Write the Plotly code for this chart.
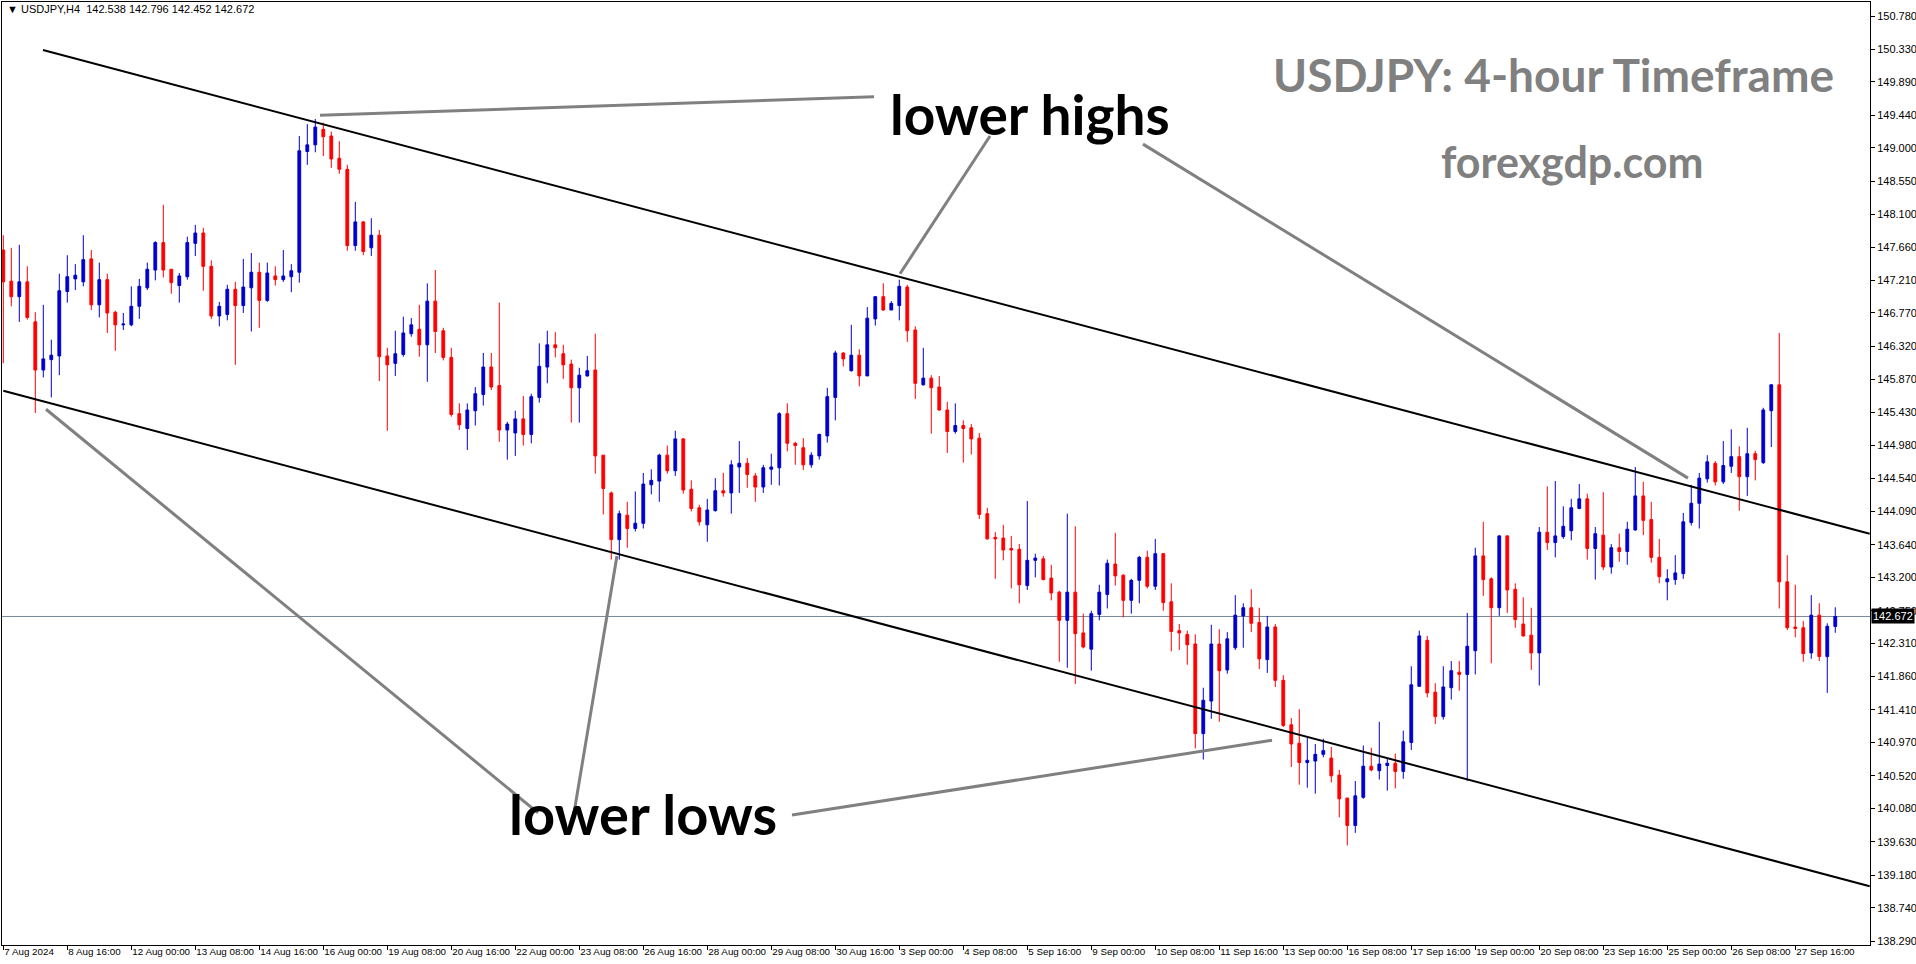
import plotly.graph_objects as go

# ---------------- data (USDJPY H4) ----------------
open_ = [147.62,147.20,146.99,147.19,146.65,146.00,146.14,146.19,147.06,147.23,
         147.19,147.50,146.88,147.22,146.78,146.61,146.61,146.86,147.11,147.35,
         147.72,147.36,147.14,147.26,147.71,147.85,147.40,146.73,146.75,147.09,
         146.87,147.11,147.32,146.94,147.27,147.22,147.26,147.32,148.95,149.04,
         149.25,149.16,148.86,148.71,147.68,148.00,147.65,147.82,146.19,146.09,
         146.21,146.49,146.55,146.34,146.93,146.53,146.17,145.41,145.21,145.45,
         145.67,146.04,145.79,145.19,145.15,145.34,145.13,145.63,146.04,146.34,
         146.22,146.08,145.76,145.92,146.00,144.85,144.34,143.71,144.04,143.86,
         143.93,144.45,144.50,144.85,144.64,145.07,144.39,144.14,143.91,144.10,
         144.37,144.34,144.69,144.74,144.57,144.42,144.66,144.68,145.41,145.01,
         144.95,144.72,144.84,145.11,145.63,146.23,145.99,146.20,145.92,146.69,
         146.99,146.81,146.87,147.12,146.54,145.80,145.89,145.77,145.46,145.17,
         145.25,145.22,145.08,144.06,143.74,143.73,143.59,143.58,143.09,143.43,
         143.45,143.19,143.00,142.62,143.00,142.45,142.23,142.70,142.97,143.38,
         143.23,142.89,143.16,143.47,143.08,143.52,142.87,142.48,142.43,142.30,
         141.09,141.53,142.30,141.95,142.25,142.68,142.79,142.59,142.09,142.53,
         141.81,141.21,140.96,140.70,140.72,140.81,140.76,140.53,140.22,139.85,
         140.23,140.65,140.59,140.66,140.69,140.58,140.97,141.73,142.35,141.65,
         141.32,141.71,141.92,141.89,142.21,143.49,143.18,142.79,143.76,143.04,
         142.57,142.42,142.18,143.81,143.67,143.75,143.83,144.13,144.26,143.59,
         143.77,143.34,143.60,143.55,143.84,144.30,143.98,143.47,143.14,143.17,
         143.25,143.94,144.20,144.53,144.74,144.49,144.70,144.83,144.56,144.87,
         144.75,145.45,145.80,143.14,142.53,142.52,142.18,142.69,142.13,142.538]
high = [147.82,147.65,147.69,147.40,146.78,146.88,146.41,147.30,147.55,147.43,
        147.82,147.62,147.45,147.30,146.80,146.77,147.13,147.23,147.45,147.74,
        148.23,147.36,147.31,147.80,147.96,147.92,147.48,146.92,147.15,147.19,
        147.50,147.58,147.45,147.45,147.40,147.62,147.43,149.16,149.32,149.39,
        149.34,149.22,149.09,148.77,148.27,148.01,148.05,147.89,146.30,146.53,
        146.72,146.70,146.88,147.17,147.35,146.57,146.30,145.55,145.55,145.77,
        146.23,146.23,146.91,145.30,145.45,145.65,145.68,146.36,146.53,146.51,
        146.34,146.14,146.03,146.19,146.49,144.85,144.36,144.10,144.22,144.36,
        144.61,144.66,144.87,144.98,145.18,145.08,144.51,144.18,144.26,144.54,
        144.61,144.78,145.04,144.81,144.61,144.72,144.87,145.43,145.55,145.03,
        145.08,144.89,145.14,145.76,146.26,146.24,146.61,146.28,146.85,147.00,
        147.17,146.93,147.22,147.15,146.59,146.30,145.93,145.92,145.57,145.55,
        145.32,145.27,145.15,144.14,143.81,143.91,143.76,143.65,144.23,143.52,
        143.49,143.37,143.02,144.06,143.89,142.71,142.75,143.10,143.44,143.80,
        143.24,143.18,143.49,143.56,143.72,143.53,143.12,142.57,142.48,142.43,
        141.71,142.56,142.50,142.46,142.96,142.85,143.04,142.79,142.68,142.57,
        141.88,141.30,141.42,141.04,140.95,141.02,140.91,140.60,140.22,140.45,
        140.93,140.90,141.25,140.75,140.82,141.13,142.00,142.48,142.41,141.77,
        142.00,142.07,142.07,142.72,143.60,143.95,143.20,143.77,143.77,143.12,
        142.93,142.79,143.88,144.43,144.50,144.16,144.26,144.46,144.33,143.88,
        144.35,143.65,143.79,143.95,144.69,144.49,144.22,143.72,143.31,143.50,
        144.07,144.45,144.61,144.85,144.77,145.04,145.20,144.97,145.22,144.91,
        145.49,145.81,146.50,143.50,143.10,142.61,142.96,142.85,142.58,142.796]
low = [146.09,146.86,146.65,146.68,145.42,145.90,145.63,145.93,146.91,147.08,
       147.13,146.81,146.71,146.50,146.26,146.54,146.59,146.69,147.08,147.21,
       147.25,147.03,146.91,147.22,147.54,147.07,146.69,146.59,146.67,146.07,
       146.77,146.52,146.57,146.92,147.14,147.19,147.05,147.18,148.77,148.94,
       148.89,148.73,148.65,147.61,147.61,147.55,147.54,145.85,145.18,145.92,
       146.18,146.45,146.18,145.84,146.23,146.13,145.37,145.19,144.92,145.25,
       145.52,145.73,145.03,144.79,144.84,144.98,145.01,145.56,145.82,146.17,
       145.88,145.29,145.29,145.91,144.60,144.05,143.44,143.44,143.60,143.82,
       143.86,144.32,144.22,144.60,144.57,144.33,144.09,143.90,143.68,144.09,
       144.29,144.06,144.34,144.41,144.22,144.34,144.45,144.44,144.90,144.72,
       144.65,144.68,144.79,145.02,145.32,146.05,145.98,145.78,145.92,146.60,
       146.80,146.81,146.67,146.38,145.61,145.79,145.14,145.45,144.88,145.14,
       144.75,144.86,143.99,143.71,143.18,143.43,143.05,142.85,143.03,143.20,
       143.16,142.89,142.06,141.98,141.76,142.24,141.94,142.62,142.78,143.09,
       142.66,142.71,142.85,143.05,143.03,142.75,142.20,142.22,142.02,140.89,
       140.74,141.29,141.25,141.90,142.22,142.25,142.46,141.96,141.91,141.72,
       141.18,140.64,140.40,140.36,140.28,140.77,140.43,139.96,139.58,139.75,
       140.21,140.58,140.47,140.32,140.35,140.48,140.87,141.72,141.58,141.22,
       141.28,141.55,141.67,140.45,141.89,142.95,142.04,142.68,142.72,142.52,
       142.40,141.95,141.74,143.57,143.47,143.72,143.70,144.12,143.44,143.17,
       143.30,143.25,143.41,143.37,143.83,143.77,143.40,143.12,142.89,143.10,
       143.18,143.90,143.86,144.48,144.44,144.46,144.61,144.10,144.30,144.51,
       144.73,144.96,142.78,142.49,142.39,142.06,142.10,142.07,141.64,142.452]
close = [147.19,146.99,147.19,146.71,146.00,146.15,146.20,147.07,147.26,147.28,
         147.49,146.88,147.22,146.77,146.61,146.62,146.86,147.13,147.36,147.72,
         147.35,147.18,147.27,147.72,147.85,147.40,146.73,146.86,147.09,146.87,
         147.12,147.32,146.94,147.31,147.22,147.27,147.34,148.96,149.04,149.28,
         149.15,148.85,148.71,147.68,148.00,147.60,147.82,146.18,146.07,146.22,
         146.50,146.61,146.34,146.93,146.52,146.17,145.40,145.26,145.46,145.68,
         146.04,145.77,145.19,145.27,145.34,145.13,145.64,146.05,146.34,146.30,
         146.07,145.76,145.93,145.99,144.84,144.40,143.71,144.06,143.86,143.93,
         144.46,144.51,144.85,144.64,145.07,144.38,144.13,143.95,144.11,144.37,
         144.34,144.72,144.74,144.59,144.42,144.68,144.69,145.41,145.01,144.98,
         144.72,144.85,145.13,145.64,146.23,146.15,146.20,145.92,146.70,146.99,
         146.81,146.90,147.13,146.53,145.82,145.89,145.76,145.46,145.17,145.25,
         145.21,145.07,144.05,143.72,143.72,143.57,143.57,143.10,143.43,143.46,
         143.17,142.99,142.62,143.00,142.44,142.26,142.71,143.00,143.39,143.22,
         142.89,143.16,143.47,143.08,143.52,142.86,142.47,142.45,142.29,141.09,
         141.54,142.30,141.94,142.37,142.69,142.79,142.58,142.10,142.53,141.81,
         141.20,140.95,140.70,140.73,140.81,140.86,140.52,140.21,139.85,140.25,
         140.65,140.60,140.68,140.69,140.58,140.98,141.75,142.41,141.64,141.32,
         141.72,141.94,141.89,142.27,143.49,143.17,142.79,143.76,143.03,142.63,
         142.41,142.18,143.81,143.67,143.76,143.89,144.14,144.26,143.59,143.79,
         143.34,143.60,143.55,143.85,144.30,143.97,143.47,143.21,143.18,143.26,
         143.95,144.20,144.54,144.76,144.49,144.71,144.83,144.56,144.87,144.79,
         145.46,145.80,143.14,142.52,142.51,142.17,142.69,142.13,142.54,142.672]
bar_index = list(range(len(close)))

date_labels = ["7 Aug 2024", "8 Aug 16:00", "12 Aug 00:00", "13 Aug 08:00", "14 Aug 16:00",
               "16 Aug 00:00", "19 Aug 08:00", "20 Aug 16:00", "22 Aug 00:00", "23 Aug 08:00",
               "26 Aug 16:00", "28 Aug 00:00", "29 Aug 08:00", "30 Aug 16:00", "3 Sep 00:00",
               "4 Sep 08:00", "5 Sep 16:00", "9 Sep 00:00", "10 Sep 08:00", "11 Sep 16:00",
               "13 Sep 00:00", "16 Sep 08:00", "17 Sep 16:00", "19 Sep 00:00", "20 Sep 08:00",
               "23 Sep 16:00", "25 Sep 00:00", "26 Sep 08:00", "27 Sep 16:00"]
date_label_index = list(range(0, 8 * len(date_labels), 8))

price_ticks = [150.780, 150.330, 149.890, 149.440, 149.000, 148.550, 148.100, 147.660,
               147.210, 146.770, 146.320, 145.870, 145.430, 144.980, 144.540, 144.090,
               143.640, 143.200, 142.750, 142.310, 141.860, 141.410, 140.970, 140.520,
               140.080, 139.630, 139.180, 138.740, 138.290]

last_price = 142.672
header_values = [142.538, 142.796, 142.452, 142.672]

# channel trend lines (bar index, price)
upper_channel_x = [4.96, 233.3]
upper_channel_y = [150.32, 143.79]
lower_channel_x = [0.0, 233.3]
lower_channel_y = [145.72, 139.03]

# pointer lines for the labels (bar index, price)
pointer_lines = [
    ([39.59, 108.84], [149.44, 149.69]),
    ([123.34, 112.09], [149.16, 147.30]),
    ([142.46, 210.59], [149.05, 144.54]),
    ([5.34, 66.84], [145.47, 140.02]),
    ([71.34, 76.71], [140.02, 143.49]),
    ([98.59, 158.59], [139.99, 141.00]),
]

# ---------------- figure ----------------
W, H = 1916, 964
L, R, T, B = 2, 46, 2, 19

def px_x(px):
    return (px - L) / (W - L - R)

def px_y(py):
    return (H - B - py) / (H - T - B)

fig = go.Figure()
fig.add_trace(go.Candlestick(
    x=bar_index, open=open_, high=high, low=low, close=close,
    increasing=dict(line=dict(color="#0000CD", width=1), fillcolor="#0000CD"),
    decreasing=dict(line=dict(color="#FF0000", width=1), fillcolor="#FF0000"),
    whiskerwidth=0, hoverinfo="skip", showlegend=False,
))

fig.add_hline(y=last_price, line=dict(color="#778899", width=1), layer="below")

for xs, ys in [(upper_channel_x, upper_channel_y), (lower_channel_x, lower_channel_y)]:
    fig.add_trace(go.Scatter(x=xs, y=ys, mode="lines", line=dict(color="black", width=2),
                             hoverinfo="skip", showlegend=False, cliponaxis=True))

for xs, ys in pointer_lines:
    fig.add_trace(go.Scatter(x=xs, y=ys, mode="lines", line=dict(color="#808080", width=3),
                             hoverinfo="skip", showlegend=False))

axis_font = dict(family="Liberation Sans, Arial, sans-serif", size=11, color="black")
date_font = dict(family="Liberation Sans, Arial, sans-serif", size=9.8, color="black")

fig.update_layout(
    width=W, height=H,
    margin=dict(l=L, r=R, t=T, b=B, autoexpand=False),
    plot_bgcolor="white", paper_bgcolor="white",
    showlegend=False, boxgap=0.5,
    xaxis=dict(range=[-0.1625, 233.34], showgrid=False, zeroline=False,
               showline=True, linecolor="black", linewidth=1, mirror=True,
               ticks="outside", ticklen=4, tickcolor="black", tickwidth=1,
               tickvals=date_label_index, ticktext=date_labels, tickangle=0,
               ticklabelposition="outside right", ticklabelstandoff=-3,
               tickfont=date_font,
               rangeslider=dict(visible=False), fixedrange=True),
    yaxis=dict(range=[138.236, 150.969], side="right", showgrid=False, zeroline=False,
               showline=True, linecolor="black", linewidth=1, mirror=True,
               ticks="outside", ticklen=4, tickcolor="black", tickwidth=1,
               tickvals=price_ticks, ticktext=[f"{v:.3f}" for v in price_ticks],
               tickfont=axis_font, fixedrange=True),
)

big_font = "Lato, 'Open Sans', sans-serif"
annotations = [
    dict(text="\u25BC\u00a0USDJPY,H4\u00a0\u00a0" + "\u00a0".join(f"{v:.3f}" for v in header_values),
         x=px_x(5), y=px_y(9), xanchor="left", yanchor="middle",
         font=dict(family="Liberation Sans, Arial, sans-serif", size=11, color="black")),
    dict(text="<b>USDJPY: 4-hour Timeframe</b>", x=px_x(1553), y=px_y(74),
         xanchor="center", yanchor="middle", font=dict(family=big_font, size=46, color="#808080")),
    dict(text="<b>forexgdp.com</b>", x=px_x(1572), y=px_y(161),
         xanchor="center", yanchor="middle", font=dict(family=big_font, size=43, color="#808080")),
    dict(text="<b>lower highs</b>", x=px_x(1030), y=px_y(114),
         xanchor="center", yanchor="middle", font=dict(family=big_font, size=55, color="black")),
    dict(text="<b>lower lows</b>", x=px_x(643), y=px_y(813),
         xanchor="center", yanchor="middle", font=dict(family=big_font, size=56, color="black")),
]
for a in annotations:
    a.update(xref="paper", yref="paper", showarrow=False)
    fig.add_annotation(**a)

fig.add_annotation(text=f"{last_price:.3f}", xref="paper", yref="y", x=1, y=last_price,
                   xanchor="left", yanchor="middle", xshift=1, showarrow=False,
                   bgcolor="black", borderpad=1,
                   font=dict(family="Liberation Sans, Arial, sans-serif", size=11, color="white"))

fig.write_html("out.html", config={"displayModeBar": False},
               post_script="document.body.style.margin='0';document.body.style.overflow='hidden';")
